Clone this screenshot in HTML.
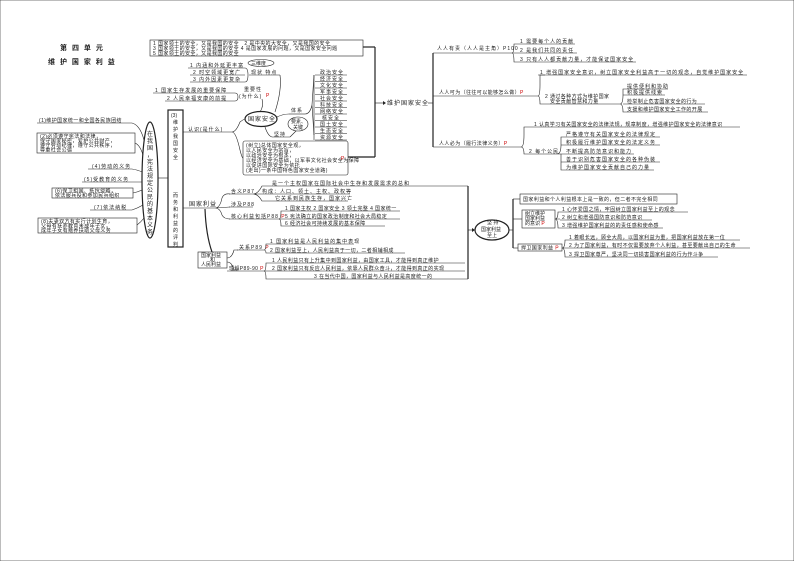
<!DOCTYPE html>
<html><head><meta charset="utf-8"><style>
html,body{margin:0;padding:0;background:#fff}
svg{display:block}
text{font-family:"Liberation Sans","Noto Sans CJK SC",sans-serif;fill:#222;font-size:5px;letter-spacing:1px}
.n{letter-spacing:0}
.s{letter-spacing:.4px}
.b{font-size:7px;font-weight:bold;letter-spacing:1.5px}
.m{font-size:6px}
line,path,rect,ellipse,polyline{stroke:#222;fill:none;stroke-width:.6}
.t{stroke-width:1.2}
</style></head><body>
<svg width="794" height="561" viewBox="0 0 794 561" xmlns="http://www.w3.org/2000/svg">
<rect x="0" y="0" width="794" height="561" fill="#fff" stroke="none"/>
<text x="60" y="50" class="b">第 四 单 元</text>
<text x="48" y="64" class="b">维 护 国 家 利 益</text>

<rect x="150" y="40" width="213" height="16"/>
<text x="153" y="45" class="s">1 国家领土的安全，又是我国的安全　2 是中央的大安全，又是我国的安全</text>
<text x="153" y="50" class="s">3 国家领土的安全，又是我国的安全 4 是国家发展的问题，又是国家安全问题</text>
<text x="153" y="55" class="s">5 国家领土的安全，又是我国的安全</text>
<line x1="363" y1="47" x2="375" y2="47" class="t"/>
<line x1="375" y1="47" x2="375" y2="157" class="t"/>
<line x1="348" y1="157" x2="375" y2="157" class="t"/>
<line x1="375" y1="103" x2="383" y2="103"/>
<polygon points="383,101 386,103 383,105" fill="#222"/>

<ellipse cx="261" cy="63" rx="13" ry="3.5"/>
<text x="251" y="65" class="n">三维度</text>
<text x="190" y="67">1 内涵和外延更丰富</text><line x1="188" y1="68" x2="245" y2="68"/>
<text x="193" y="74">2 时空领域更宽广</text><line x1="190" y1="75" x2="245" y2="75"/>
<text x="193" y="81">3 内外因素更复杂</text><line x1="190" y1="82" x2="245" y2="82"/>
<path d="M245 68 Q248 68 248 75 Q248 82 245 82"/>
<text x="251" y="74">现状 特点</text><line x1="249" y1="75" x2="280" y2="75"/>
<path d="M280 75 Q282 90 275 112"/>

<text x="155" y="92">1 国家生存发展的重要保障</text><line x1="153" y1="93" x2="235" y2="93"/>
<text x="167" y="100">2 人民幸福安康的前提</text><line x1="165" y1="101" x2="235" y2="101"/>
<path d="M235 93 Q238 93 238 97 Q238 101 235 101"/>
<text x="244" y="91">重要性</text><text x="239" y="98">(为什么)</text>
<text x="266" y="97" style="fill:#c00">P</text>
<path d="M262 99 Q264 106 260 112"/>

<ellipse cx="261" cy="119" rx="16" ry="7.5" class="t"/>
<text x="248" y="121" class="m">国家安全</text>
<ellipse cx="298" cy="124" rx="10" ry="7"/>
<text x="291" y="123" class="n">要素、</text><text x="293" y="129" class="n">关键</text>
<text x="291" y="112">体系</text><line x1="289" y1="114" x2="305" y2="114"/>
<path d="M277 117 Q283 114 289 114"/>
<path d="M305 114 Q310 114 312 105 L314 75 M312 105 L314 135"/>
<g>
<text x="320" y="74">政治安全</text><line x1="315" y1="75" x2="347" y2="75"/>
<text x="320" y="80.5">经济安全</text><line x1="315" y1="81.5" x2="347" y2="81.5"/>
<text x="320" y="87">文化安全</text><line x1="315" y1="88" x2="347" y2="88"/>
<text x="320" y="93.5">军事安全</text><line x1="315" y1="94.5" x2="347" y2="94.5"/>
<text x="320" y="100">社会安全</text><line x1="315" y1="101" x2="347" y2="101"/>
<text x="320" y="106.5">科技安全</text><line x1="315" y1="107.5" x2="347" y2="107.5"/>
<text x="320" y="113">网络安全</text><line x1="315" y1="114" x2="347" y2="114"/>
<text x="322" y="119.5">核安全</text><line x1="315" y1="120.5" x2="347" y2="120.5"/>
<text x="320" y="126">国土安全</text><line x1="315" y1="127" x2="347" y2="127"/>
<text x="320" y="132.5">生态安全</text><line x1="315" y1="133.5" x2="347" y2="133.5"/>
<text x="320" y="139">资源安全</text><line x1="315" y1="140" x2="347" y2="140"/>
<line x1="314" y1="75" x2="314" y2="140"/>
</g>
<text x="274" y="136">坚持</text><line x1="272" y1="137" x2="290" y2="137"/>
<path d="M265 127 Q268 136 272 137"/>
<path d="M290 137 L296 131"/>
<rect x="243" y="141" width="105" height="34" rx="2"/>
<text x="246" y="147" class="s">(树立)总体国家安全观，</text>
<text x="246" y="152" class="s">以人民安全为宗旨，</text>
<text x="246" y="157" class="s">以政治安全为根本，</text>
<text x="246" y="162" class="s">以经济安全为基础，以军事文化社会安全为保障</text>
<text x="246" y="167" class="s">以促进国际安全为依托</text>
<text x="246" y="172" class="s">(走出)一条中国特色国家安全道路)</text>
<text x="341" y="160" style="fill:#c00">P</text>

<text x="188" y="131">认识(是什么)</text><line x1="183" y1="132" x2="232" y2="132"/>
<path d="M232 132 Q236 132 240 122 Q244 119 245 119 M232 132 Q236 132 240 150 Q242 158 243 158"/>

<rect x="168" y="110" width="15" height="137" class="t"/>
<text x="171" y="117" class="n">(3)</text>
<g class="n">
<text x="173" y="124" class="n">维</text><text x="173" y="131" class="n">护</text><text x="173" y="138" class="n">我</text><text x="173" y="145" class="n">国</text><text x="173" y="152" class="n">安</text><text x="173" y="159" class="n">全</text>
<text x="173" y="197" class="n">而</text><text x="173" y="204" class="n">务</text><text x="173" y="211" class="n">和</text><text x="173" y="218" class="n">利</text><text x="173" y="225" class="n">益</text><text x="173" y="232" class="n">的</text><text x="173" y="239" class="n">评</text><text x="173" y="246" class="n">判</text>
</g>
<line x1="158" y1="178" x2="168" y2="178"/>

<ellipse cx="150" cy="180" rx="8" ry="58" class="t"/>
<text x="147" y="136" class="m n">在</text><text x="147" y="143" class="m n">我</text><text x="147" y="150" class="m n">国</text><text x="147" y="157" class="m n">，</text><text x="147" y="164" class="m n">宪</text><text x="147" y="171" class="m n">法</text><text x="147" y="178" class="m n">规</text><text x="147" y="185" class="m n">定</text><text x="147" y="192" class="m n">公</text><text x="147" y="199" class="m n">民</text><text x="147" y="206" class="m n">的</text><text x="147" y="213" class="m n">基</text><text x="147" y="220" class="m n">本</text><text x="147" y="227" class="m n">义</text><text x="147" y="234" class="m n">务</text>

<text x="39" y="122" class="s">(1)维护国家统一和全国各民族团结</text><line x1="37" y1="123" x2="132" y2="123"/>
<rect x="37" y="133" width="98" height="20"/>
<text x="40" y="138" class="s">(2)必须遵守宪法和法律，</text>
<text x="40" y="142.5" class="s">保守国家秘密，爱护公共财产，</text>
<text x="40" y="147" class="s">遵守劳动纪律，遵守公共秩序，</text>
<text x="40" y="151.5" class="s">尊重社会公德</text>
<text x="92" y="168">(4)劳动的义务</text><line x1="88" y1="169" x2="132" y2="169"/>
<text x="84" y="181">(5)受教育的义务</text><line x1="82" y1="182" x2="132" y2="182"/>
<rect x="52" y="188" width="81" height="10"/>
<text x="55" y="192.5" class="s">(6)保卫祖国、抵抗侵略，</text>
<text x="55" y="197" class="s">依法服兵役和参加民兵组织</text>
<text x="94" y="209">(7)依法纳税</text><line x1="90" y1="210" x2="132" y2="210"/>
<rect x="38" y="218" width="99" height="15"/>
<text x="41" y="223" class="s">(8)夫妻双方有实行计划生育，</text>
<text x="41" y="227.5" class="s">父母有抚养教育未成年子女，</text>
<text x="41" y="232" class="s">成年子女有赡养扶助父母义务</text>
<path d="M132 123 Q140 125 144 140 M135 143 Q140 145 143 155 M132 169 Q138 170 142 172 M132 182 L142 182 M133 193 Q138 192 142 190 M132 210 Q138 208 143 205 M137 225 Q141 222 144 218"/>

<text x="189" y="206" class="m">国家利益</text><line x1="183" y1="208" x2="215" y2="208"/>
<path d="M215 208 Q220 208 222 198 Q224 193 230 194 M215 208 L230 207 M215 208 Q220 208 222 215 Q224 219 230 219"/>
<text x="231" y="193">含义P87</text><line x1="229" y1="194" x2="253" y2="194"/>
<path d="M253 194 Q258 194 262 186 L270 186 M253 194 L260 194 M253 194 Q258 194 262 201 L273 201"/>
<text x="272" y="185">是一个主权国家在国际社会中生存和发展需求的总和</text><line x1="270" y1="186" x2="413" y2="186"/>
<text x="262" y="193">构成：人口、领土、主权、政权等</text><line x1="260" y1="194" x2="350" y2="194"/>
<text x="275" y="200">它关系到民族生存，国家兴亡</text><line x1="273" y1="201" x2="348" y2="201"/>
<text x="231" y="206">涉及P88</text><line x1="229" y1="207" x2="253" y2="207"/>
<text x="231" y="218">核心利益包括P88 <tspan style="fill:#c00">P</tspan></text><line x1="229" y1="219" x2="279" y2="219"/>
<path d="M279 219 Q281 219 281 211 L283 211 M279 219 L283 219 M279 219 Q281 219 281 226 L283 226"/>
<text x="285" y="210" class="s">1 国家主权 2 国家安全 3 领土完整 4 国家统一</text><line x1="283" y1="211" x2="400" y2="211"/>
<text x="285" y="218" class="s">5 宪法确立的国家政治制度和社会大局稳定</text><line x1="283" y1="219" x2="400" y2="219"/>
<text x="285" y="225" class="s">6 经济社会可持续发展的基本保障</text><line x1="283" y1="226" x2="385" y2="226"/>
<line x1="413" y1="186" x2="468" y2="186"/>
<line x1="468" y1="186" x2="468" y2="279" class="t"/>
<line x1="468" y1="230" x2="473" y2="230"/>
<polygon points="472,228 475,230 472,232" fill="#222"/>

<path d="M205 209 Q206 235 212 252" class="t"/>
<rect x="198" y="252" width="29" height="16"/>
<text x="201" y="257" class="n">国家利益</text><text x="210" y="261.5" class="n">和</text><text x="201" y="266" class="n">人民利益</text>
<path d="M227 258 Q232 258 234 250 L238 250 M227 262 Q232 262 234 270 L238 270"/>
<text x="239" y="249">关系P89 <tspan style="fill:#c00">P</tspan></text><line x1="237" y1="250" x2="264" y2="250"/>
<path d="M264 250 Q266 250 266 244 L268 244 M264 250 Q266 250 266 253 L268 253"/>
<text x="270" y="243">1 国家利益是人民利益的集中表现</text><line x1="268" y1="244" x2="354" y2="244"/>
<text x="270" y="252" class="s">2 国家利益至上，人民利益高于一切，二者相辅相成</text><line x1="268" y1="253" x2="405" y2="253"/>
<text x="229" y="270" class="s">理解P89-90 <tspan style="fill:#c00">P</tspan></text><line x1="227" y1="271" x2="264" y2="271"/>
<path d="M264 271 Q266 271 266 263 L270 263 M264 271 L270 271 M264 271 Q266 271 266 279 L310 279"/>
<text x="272" y="262" class="s">1 人民利益只有上升集中到国家利益，由国家工具，才能得到真正维护</text><line x1="270" y1="263" x2="465" y2="263"/>
<text x="272" y="270" class="s">2 国家利益只有反应人民利益，依靠人民群众奋斗，才能得到真正的实现</text><line x1="270" y1="271" x2="465" y2="271"/>
<text x="314" y="278" class="s">3 在当代中国，国家利益与人民利益是高度统一的</text><line x1="310" y1="279" x2="468" y2="279"/>

<text x="387" y="105" class="m">维护国家安全</text>
<line x1="428" y1="103" x2="433" y2="103"/>
<line x1="433" y1="53" x2="433" y2="147" class="t"/>
<text x="437" y="50">人人有责（人人是主角）P100</text><line x1="433" y1="53" x2="512" y2="53"/>
<path d="M512 53 Q514 53 514 44 L518 44 M512 53 L518 53 M512 53 Q514 53 514 62 L518 62"/>
<text x="520" y="43">1 需要每个人的贡献</text><line x1="518" y1="44" x2="575" y2="44"/>
<text x="520" y="52">2 是我们共同的责任</text><line x1="518" y1="53" x2="577" y2="53"/>
<text x="520" y="61">3 只有人人都贡献力量，才能保证国家安全</text><line x1="518" y1="62" x2="636" y2="62"/>

<text x="439" y="94" class="s">人人可为（往往可以能够怎么做）<tspan style="fill:#c00">P</tspan></text><line x1="433" y1="96" x2="538" y2="96"/>
<path d="M538 96 Q540 96 540 85 L540 75 L545 75 M538 96 Q540 96 540 104 L543 104"/>
<text x="540" y="74">1 增强国家安全意识，树立国家安全利益高于一切的观念，自觉维护国家安全</text><line x1="538" y1="75" x2="747" y2="75"/>
<text x="545" y="98" class="s">2 通过各种方式为维护国家</text><text x="550" y="103" class="s">安全贡献智慧和力量</text><line x1="543" y1="104" x2="620" y2="104"/>
<path d="M620 104 Q623 104 623 95 L623 89 L626 89 M623 95 L626 95 M620 104 Q623 104 623 112 L626 112 M623 104 L626 104"/>
<text x="627" y="88">提供便利和协助</text><line x1="626" y1="89" x2="668" y2="89"/>
<text x="627" y="94">积极提供线索</text><line x1="626" y1="95" x2="665" y2="95"/>
<text x="627" y="103" class="s">检举制止危害国家安全的行为</text><line x1="626" y1="104" x2="705" y2="104"/>
<text x="627" y="111" class="s">支援和维护国家安全工作的开展</text><line x1="626" y1="112" x2="708" y2="112"/>

<text x="439" y="145" class="s">人人必为（履行法律义务）<tspan style="fill:#c00">P</tspan></text><line x1="433" y1="147" x2="521" y2="147"/>
<path d="M521 147 Q524 147 524 135 L524 127 L532 127 M521 147 Q524 147 524 154 L527 154"/>
<text x="534" y="126" class="s">1 认真学习有关国家安全的法律法规，规章制度，增强维护国家安全的法律意识</text><line x1="532" y1="127" x2="740" y2="127"/>
<text x="529" y="153">2 每个公民</text><line x1="527" y1="154" x2="557" y2="154"/>
<path d="M557 154 Q561 154 561 145 L561 137 L564 137 M561 145 L564 145 M557 154 L564 154 M561 154 L561 170 L564 170 M561 162 L564 162"/>
<text x="566" y="136">严格遵守有关国家安全的法律规定</text><line x1="564" y1="137" x2="660" y2="137"/>
<text x="566" y="144">积极履行维护国家安全的法定义务</text><line x1="564" y1="145" x2="660" y2="145"/>
<text x="566" y="153">不断提高防范意识和能力</text><line x1="564" y1="154" x2="634" y2="154"/>
<text x="566" y="161">善于识别危害国家安全的各种伪装</text><line x1="564" y1="162" x2="660" y2="162"/>
<text x="566" y="169">为维护国家安全贡献自己的力量</text><line x1="564" y1="170" x2="654" y2="170"/>

<ellipse cx="492" cy="230" rx="17" ry="10" class="t"/>
<text x="487" y="224" class="n">坚 持</text>
<text x="481" y="231" class="n">国家利益</text>
<text x="487" y="237" class="n">至上</text>
<line x1="509" y1="230" x2="513" y2="230"/>
<line x1="513" y1="199" x2="513" y2="248" class="t"/>
<line x1="513" y1="199" x2="520" y2="199"/>
<line x1="513" y1="219" x2="522" y2="219"/>
<line x1="513" y1="248" x2="518" y2="248"/>
<rect x="520" y="194" width="157" height="10"/>
<text x="523" y="201" class="s">国家利益和个人利益根本上是一致的，但二者不完全相同</text>
<rect x="522" y="210" width="33" height="18"/>
<text x="525" y="215" class="n">树立维护</text><text x="525" y="220" class="n">国家利益</text><text x="525" y="225" class="n">的意识 <tspan style="fill:#c00">P</tspan></text>
<path d="M555 219 Q558 219 558 212 L560 212 M555 219 L560 219 M555 219 Q558 219 558 228 L560 228"/>
<text x="562" y="211" class="s">1 心怀爱国之情，牢固树立国家利益至上的观念</text><line x1="560" y1="212" x2="688" y2="212"/>
<text x="562" y="219" class="s">2 树立和增强国防意识和防范意识</text><line x1="560" y1="220" x2="652" y2="220"/>
<text x="562" y="227" class="s">3 增强维护国家利益的的责任感和使命感</text><line x1="560" y1="228" x2="663" y2="228"/>
<rect x="518" y="244" width="44" height="7"/>
<text x="521" y="249.5" class="s">捍卫国家利益 <tspan style="fill:#c00">P</tspan></text>
<path d="M562 248 Q565 248 565 240 L567 240 M562 248 L567 248 M562 248 Q565 248 565 257 L567 257"/>
<text x="569" y="239" class="s">1 着眼长远，顾全大局，以国家利益为重，把国家利益放在第一位</text><line x1="567" y1="240" x2="740" y2="240"/>
<text x="569" y="247" class="s">2 为了国家利益，有时不仅需要放弃个人利益，甚至要献出自己的生命</text><line x1="567" y1="248" x2="750" y2="248"/>
<text x="569" y="256" class="s">3 捍卫国家尊严，坚决同一切损害国家利益的行为作斗争</text><line x1="567" y1="257" x2="718" y2="257"/>
</svg>
</body></html>
